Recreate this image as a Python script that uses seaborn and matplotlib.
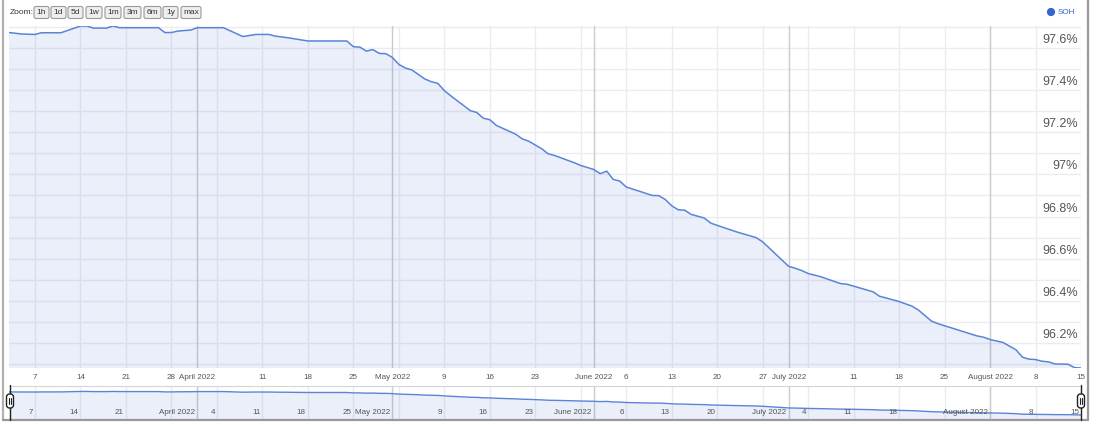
import numpy as np
import pandas as pd
import matplotlib
matplotlib.use('Agg')
import matplotlib.pyplot as plt
import matplotlib.dates as mdates
import matplotlib.transforms as mtransforms
from matplotlib.patches import FancyBboxPatch, Circle
import seaborn as sns

# SOH readings
dates = ['2022-03-03', '2022-03-05', '2022-03-07', '2022-03-08', '2022-03-11', '2022-03-14',
         '2022-03-15', '2022-03-16', '2022-03-18', '2022-03-19', '2022-03-20', '2022-03-26',
         '2022-03-27', '2022-03-28', '2022-03-29', '2022-03-31', '2022-04-01', '2022-04-05',
         '2022-04-08', '2022-04-10', '2022-04-12', '2022-04-13', '2022-04-15', '2022-04-18',
         '2022-04-24', '2022-04-25', '2022-04-26', '2022-04-27', '2022-04-28', '2022-04-29',
         '2022-04-30', '2022-05-01', '2022-05-02', '2022-05-03', '2022-05-04', '2022-05-06',
         '2022-05-07', '2022-05-08', '2022-05-09', '2022-05-10', '2022-05-13', '2022-05-14',
         '2022-05-15', '2022-05-16', '2022-05-17', '2022-05-20', '2022-05-21', '2022-05-22',
         '2022-05-24', '2022-05-25', '2022-05-26', '2022-05-29', '2022-05-30', '2022-06-01',
         '2022-06-02', '2022-06-03', '2022-06-04', '2022-06-05', '2022-06-06', '2022-06-10',
         '2022-06-11', '2022-06-12', '2022-06-13', '2022-06-14', '2022-06-15', '2022-06-16',
         '2022-06-18', '2022-06-19', '2022-06-20', '2022-06-23', '2022-06-26', '2022-06-27',
         '2022-07-01', '2022-07-02', '2022-07-03', '2022-07-04', '2022-07-06', '2022-07-09',
         '2022-07-10', '2022-07-14', '2022-07-15', '2022-07-16', '2022-07-18', '2022-07-20',
         '2022-07-21', '2022-07-23', '2022-07-24', '2022-07-30', '2022-07-31', '2022-08-01',
         '2022-08-03', '2022-08-05', '2022-08-06', '2022-08-07', '2022-08-08', '2022-08-09',
         '2022-08-10', '2022-08-11', '2022-08-13', '2022-08-14', '2022-08-15']
soh = [97.672, 97.665, 97.663, 97.671, 97.671, 97.703,
       97.703, 97.693, 97.693, 97.703, 97.695, 97.695,
       97.672, 97.672, 97.679, 97.684, 97.695, 97.695,
       97.653, 97.663, 97.663, 97.655, 97.647, 97.632,
       97.632, 97.605, 97.603, 97.584, 97.591, 97.573,
       97.572, 97.554, 97.521, 97.504, 97.495, 97.452,
       97.439, 97.431, 97.397, 97.372, 97.302, 97.293,
       97.266, 97.259, 97.232, 97.190, 97.168, 97.157,
       97.121, 97.097, 97.089, 97.055, 97.042, 97.023,
       97.003, 97.015, 96.976, 96.968, 96.940, 96.900,
       96.899, 96.881, 96.851, 96.832, 96.830, 96.810,
       96.793, 96.769, 96.758, 96.727, 96.700, 96.680,
       96.564, 96.555, 96.544, 96.530, 96.514, 96.482,
       96.479, 96.443, 96.422, 96.414, 96.397, 96.375,
       96.356, 96.304, 96.292, 96.234, 96.228, 96.217,
       96.203, 96.168, 96.133, 96.124, 96.122, 96.114,
       96.111, 96.101, 96.100, 96.084, 96.082]

tick_dates = ['2022-03-07', '2022-03-14', '2022-03-21', '2022-03-28', '2022-04-01', '2022-04-11',
              '2022-04-18', '2022-04-25', '2022-05-01', '2022-05-09', '2022-05-16', '2022-05-23',
              '2022-06-01', '2022-06-06', '2022-06-13', '2022-06-20', '2022-06-27', '2022-07-01',
              '2022-07-11', '2022-07-18', '2022-07-25', '2022-08-01', '2022-08-08', '2022-08-15']
tick_labels = ['7', '14', '21', '28', 'April 2022', '11', '18', '25', 'May 2022', '9', '16', '23',
               'June 2022', '6', '13', '20', '27', 'July 2022', '11', '18', '25', 'August 2022', '8', '15']

nav_tick_dates = ['2022-03-07', '2022-03-14', '2022-03-21', '2022-04-01', '2022-04-04', '2022-04-11',
                  '2022-04-18', '2022-04-25', '2022-05-01', '2022-05-09', '2022-05-16', '2022-05-23',
                  '2022-06-01', '2022-06-06', '2022-06-13', '2022-06-20', '2022-07-01', '2022-07-04',
                  '2022-07-11', '2022-07-18', '2022-08-01', '2022-08-08', '2022-08-15']
nav_tick_labels = ['7', '14', '21', 'April 2022', '4', '11', '18', '25', 'May 2022', '9', '16', '23',
                   'June 2022', '6', '13', '20', 'July 2022', '4', '11', '18', 'August 2022', '8', '15']

month_starts = ['2022-04-01', '2022-05-01', '2022-06-01', '2022-07-01', '2022-08-01']
week_starts = pd.date_range('2022-03-07', '2022-08-15', freq='7D')

y_ticks = [96.2, 96.4, 96.6, 96.8, 97.0, 97.2, 97.4, 97.6]
y_labels = ['96.2%', '96.4%', '96.6%', '96.8%', '97%', '97.2%', '97.4%', '97.6%']
y_minor = [96.1, 96.3, 96.5, 96.7, 96.9, 97.1, 97.3, 97.5, 97.7]

zoom_buttons = ['1h', '1d', '5d', '1w', '1m', '3m', '6m', '1y', 'max']
button_left = [34, 51, 68, 86, 105, 124, 144, 163, 181]
button_right = [49, 66, 83, 102, 121, 141, 161, 178, 201]

sns.set_style('white')
plt.rcParams['font.family'] = ['Liberation Sans', 'DejaVu Sans']

line_col = '#5b84d8'
grid_col = '#ebecf2'
month_col = '#c9cbd1'
txt_col = '#555555'

df = pd.DataFrame({'date': pd.to_datetime(dates), 'soh': soh})

W, H = 1100, 425
fig = plt.figure(figsize=(11, 4.25), dpi=100)


def box(x0, y0, x1, y1):
    return [x0 / W, 1 - y1 / H, (x1 - x0) / W, (y1 - y0) / H]


# main chart
ax = fig.add_axes(box(9, 26, 1081, 368))
for v in y_ticks + y_minor:
    ax.axhline(v, color=grid_col, lw=1, zorder=0)
for d in week_starts:
    ax.axvline(d, color=grid_col, lw=1, zorder=0)
for d in month_starts:
    ax.axvline(pd.Timestamp(d), color=month_col, lw=1, zorder=0)

ax.fill_between(df['date'], df['soh'], 95.0, color='#3366cc', alpha=0.10, lw=0, zorder=1)
sns.lineplot(data=df, x='date', y='soh', ax=ax, color=line_col, lw=1.1, zorder=2)
ax.set_xlim(df['date'].min(), df['date'].max())
ax.set_ylim(df['soh'].min(), df['soh'].max())
ax.set_yticks([])
ax.set_xticks(pd.to_datetime(tick_dates))
ax.set_xticklabels(tick_labels, fontsize=5.8, color=txt_col)
ax.tick_params(axis='x', length=0, pad=4)
ax.set_xlabel('')
ax.set_ylabel('')
for s in ax.spines.values():
    s.set_visible(False)

trans = mtransforms.blended_transform_factory(ax.transAxes, ax.transData)
for v, lab in zip(y_ticks, y_labels):
    ax.annotate(lab, xy=(1, v), xycoords=trans, xytext=(-2.5, 3.5), textcoords='offset points',
                ha='right', va='baseline', fontsize=9, color=txt_col, zorder=5)

# navigator
nav = fig.add_axes(box(9, 386, 1081, 419))
for d in week_starts:
    nav.axvline(d, color=grid_col, lw=1, zorder=0)
for d in month_starts:
    nav.axvline(pd.Timestamp(d), color=month_col, lw=1, zorder=0)
nav.fill_between(df['date'], df['soh'], 95.0, color='#3366cc', alpha=0.10, lw=0, zorder=1)
sns.lineplot(data=df, x='date', y='soh', ax=nav, color=line_col, lw=1.0, zorder=2)
nav.set_xlim(df['date'].min(), df['date'].max())
nav.set_ylim(95.80, 98.08)
nav.set_xticks([])
nav.set_yticks([])
nav.set_xlabel('')
nav.set_ylabel('')
for s in nav.spines.values():
    s.set_visible(False)
nav.spines['top'].set_visible(True)
nav.spines['top'].set_color('#d4d4dc')
ntrans = mtransforms.blended_transform_factory(nav.transData, nav.transAxes)
for d, lab in zip(pd.to_datetime(nav_tick_dates), nav_tick_labels):
    nav.annotate(lab, xy=(mdates.date2num(d), 0.2), xycoords=ntrans, xytext=(-1.5, 0),
                 textcoords='offset points', ha='right', va='center', fontsize=5.8,
                 color=txt_col, zorder=5)

# overlay for frame, zoom buttons, legend and handles (pixel coordinates)
ov = fig.add_axes([0, 0, 1, 1])
ov.set_xlim(0, W)
ov.set_ylim(H, 0)
ov.axis('off')
ov.patch.set_alpha(0)

ov.plot([2.5, 2.5], [0, 420], color='#b0b0b0', lw=1.6)
ov.plot([1088, 1088], [0, 420], color='#999999', lw=1.6)
ov.plot([2.5, 1088], [420, 420], color='#999999', lw=1.6)

ov.text(10, 12.5, 'Zoom:', fontsize=6, color='#333333', ha='left', va='center')
for lab, x0, x1 in zip(zoom_buttons, button_left, button_right):
    ov.add_patch(FancyBboxPatch((x0, 6.5), x1 - x0, 12, boxstyle='round,pad=0,rounding_size=2',
                                fc='#eeeeee', ec='#999999', lw=0.8))
    ov.text((x0 + x1) / 2, 12.5, lab, fontsize=6, color='#333333', ha='center', va='center')

ov.add_patch(Circle((1051, 12), 3.4, color='#3366cc'))
ov.text(1058, 12.5, 'SOH', fontsize=5.8, color='#3366cc', ha='left', va='center')

for hx in [10, 1081]:
    ov.plot([hx, hx], [385, 420], color='#222222', lw=1)
    ov.add_patch(FancyBboxPatch((hx - 3.5, 394), 7, 14, boxstyle='round,pad=0,rounding_size=3',
                                fc='white', ec='#222222', lw=1, zorder=5))
    ov.plot([hx - 1, hx - 1], [398, 404], color='#222222', lw=0.8, zorder=6)
    ov.plot([hx + 1, hx + 1], [398, 404], color='#222222', lw=0.8, zorder=6)

fig.savefig('out.png', dpi=100)
